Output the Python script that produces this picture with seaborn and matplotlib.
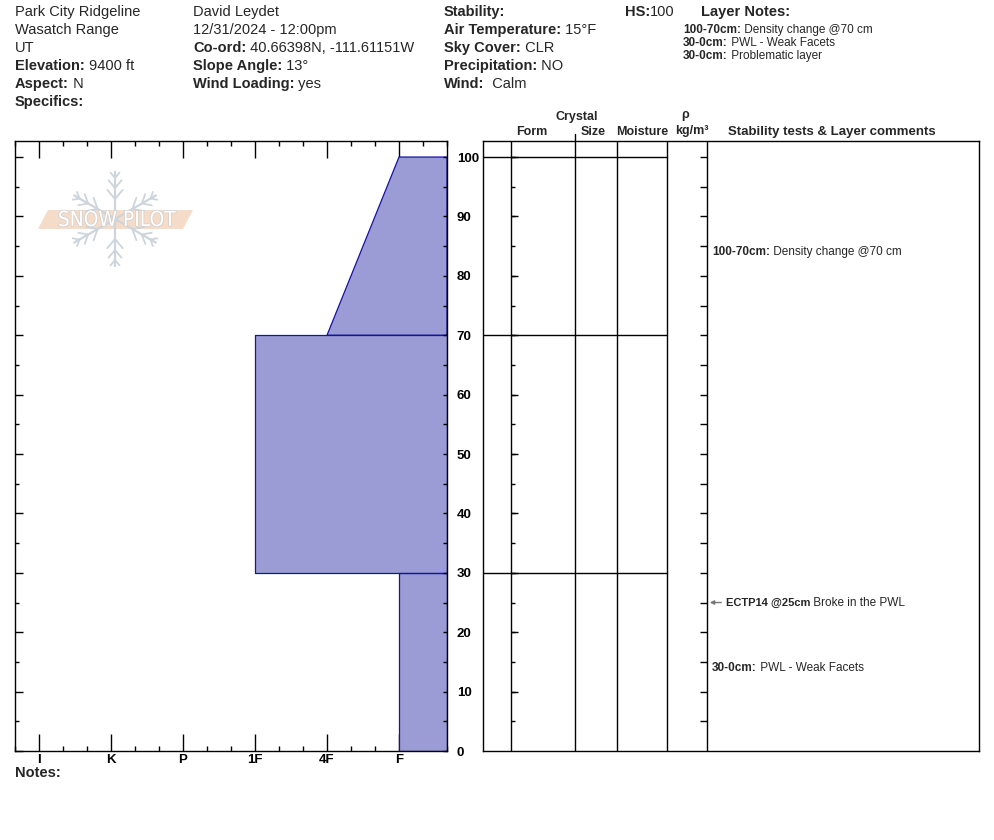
import numpy as np
import matplotlib
matplotlib.use("Agg")
import matplotlib.pyplot as plt
import matplotlib.patheffects as pe
from matplotlib.ticker import FixedLocator, MultipleLocator, FuncFormatter
import seaborn as sns

# profile data
hardness_labels = ['I', 'K', 'P', '1F', '4F', 'F']
layer_top = [100, 70, 30]
layer_bottom = [70, 30, 0]
hard_top = ['F', '1F', 'F']
hard_bottom = ['4F', '1F', 'F']

comment_top = [100, 30]
comment_bottom = [70, 0]
comment_text = ['Density change @70 cm', 'PWL - Weak Facets']

test_depth = [25]
test_code = ['ECTP14 @25cm']
test_comment = ['Broke in the PWL']

note_range = ['100-70cm:', '30-0cm:', '30-0cm:']
note_text = [' Density change @70 cm', ' PWL - Weak Facets', ' Problematic layer']

col1 = [('', 'Park City Ridgeline'), ('', 'Wasatch Range'), ('', 'UT'),
        ('Elevation:', ' 9400 ft'), ('Aspect:', ' N'), ('Specifics:', '')]
col2 = [('', 'David Leydet'), ('', '12/31/2024 - 12:00pm'),
        ('Co-ord:', ' 40.66398N, -111.61151W'), ('Slope Angle:', ' 13°'),
        ('Wind Loading:', ' yes')]
col3 = [('Stability:', ''), ('Air Temperature:', ' 15°F'), ('Sky Cover:', ' CLR'),
        ('Precipitation:', ' NO'), ('Wind:', '  Calm')]

sns.set_style("ticks")
plt.rcParams['font.family'] = ['Liberation Sans', 'DejaVu Sans']

W, H = 994, 840
fig = plt.figure(figsize=(W / 100, H / 100), dpi=100)
renderer = fig.canvas.get_renderer()


def fx(x):
    return x / W


def fy(y):
    return 1 - y / H


def rich(x, y, parts, size):
    # bold label followed by a plain value
    for txt, bold in parts:
        if not txt:
            continue
        t = fig.text(fx(x), fy(y), txt, fontsize=size, va='center', ha='left',
                     fontweight='bold' if bold else 'normal')
        x += t.get_window_extent(renderer).width


YMAX = 102.7
fill_col = '#9b9bd6'
edge_col = '#1414a0'

# watermark logo (behind the profile)
lg = fig.add_axes([0, 0, 1, 1], zorder=0)
lg.set_xlim(0, W)
lg.set_ylim(H, 0)
lg.axis('off')
flake = '#cdd5dc'
cx, cy = 115, 219
for ang in (90, 30, 150):
    a = np.deg2rad(ang)
    dx, dy = np.cos(a), -np.sin(a)
    for sgn in (1, -1):
        lg.plot([cx, cx + sgn * 48 * dx], [cy, cy + sgn * 48 * dy], color=flake, lw=1.6,
                solid_capstyle='butt')
        for r, bl in ((20, 12), (31, 10), (41, 7)):
            for br in (40, -40):
                b = a + np.deg2rad(br) + (0 if sgn > 0 else np.pi)
                bx, by = cx + sgn * r * dx, cy + sgn * r * dy
                lg.plot([bx, bx + bl * np.cos(b)], [by, by - bl * np.sin(b)],
                        color=flake, lw=1.3)
lg.fill([38, 48, 193, 183], [229, 210, 210, 229], color='#f4dcc8', lw=0)
lg.text(117, 220, 'SNOW PILOT', fontsize=15, ha='center', va='center', color='white',
        family='DejaVu Sans', stretch='condensed',
        path_effects=[pe.withStroke(linewidth=1.0, foreground='#cfcfcf')])

# ---- hardness profile ----
ax = fig.add_axes([fx(15), fy(751), fx(447) - fx(15), fy(141) - fy(751)], zorder=1)
ax.set_facecolor('none')
hpos = {h: i + 1 for i, h in enumerate(hardness_labels)}
right = 20 / 3
for top, bot, ht, hb in zip(layer_top, layer_bottom, hard_top, hard_bottom):
    px = [right, hpos[hb], hpos[ht], right, right]
    py = [bot, bot, top, top, bot]
    ax.fill(px, py, color=fill_col, lw=0, zorder=1)
    sns.lineplot(x=px, y=py, sort=False, estimator=None, color=edge_col,
                 lw=0.9, ax=ax, zorder=2)

ax.set_xlim(2 / 3, right)
ax.set_ylim(0, YMAX)
ax.xaxis.set_major_locator(FixedLocator(range(1, 7)))
ax.xaxis.set_minor_locator(MultipleLocator(1 / 3))
ax.set_xticklabels(hardness_labels, fontsize=9.5, fontweight='bold')
ax.yaxis.set_major_locator(MultipleLocator(10))
ax.yaxis.set_minor_locator(MultipleLocator(5))
ax.set_yticklabels([])
ax.tick_params(axis='x', which='major', direction='in', length=12.5, width=1,
               top=True, bottom=True, pad=2.5, colors='black')
ax.tick_params(axis='x', which='minor', direction='in', length=3.6, width=1,
               top=True, bottom=True, colors='black')
ax.tick_params(axis='y', which='major', direction='in', length=5.8, width=1,
               left=True, right=False, colors='black')
ax.tick_params(axis='y', which='minor', direction='in', length=2.9, width=1,
               left=True, right=False, colors='black')
for s in ax.spines.values():
    s.set_linewidth(1)
    s.set_color('black')
ax.set_xlabel('')
ax.set_ylabel('')

axr = ax.twinx()
axr.set_ylim(0, YMAX)
axr.yaxis.set_major_locator(MultipleLocator(10))
axr.yaxis.set_minor_locator(MultipleLocator(5))
axr.yaxis.set_major_formatter(FuncFormatter(lambda v, p: f'{v:.0f}'))
axr.tick_params(axis='y', which='both', direction='in', length=2.9, width=1, pad=7,
                labelsize=9.5, colors='black')
for lab in axr.get_yticklabels():
    lab.set_fontweight('bold')
for s in axr.spines.values():
    s.set_visible(False)

# ---- right panel ----
a2 = fig.add_axes([fx(483), fy(751), fx(979) - fx(483), fy(141) - fy(751)], zorder=1)
a2.set_xlim(0, 496)
a2.set_ylim(0, YMAX)
a2.set_xticks([])
a2.set_yticks([])
for s in a2.spines.values():
    s.set_linewidth(1)
    s.set_color('black')
col_edges = [28, 92, 134, 184, 224]
for xe in col_edges:
    a2.axvline(xe, color='black', lw=1)
for d in layer_top:
    a2.plot([0, 184], [d, d], color='black', lw=1)
ticks = np.arange(5, 101, 5)
long_t = ticks[ticks % 10 == 0]
a2.hlines(ticks, 28, 32, color='black', lw=1)
a2.hlines(long_t, 28, 35, color='black', lw=1)
a2.hlines(ticks, 217, 224, color='black', lw=1)
a2.plot([92, 92], [YMAX, YMAX + 7 / 5.94], color='black', lw=1, clip_on=False)

for top, bot, txt in zip(comment_top, comment_bottom, comment_text):
    mid = (top + bot) / 2
    t = a2.text(229, mid, f'{top}-{bot}cm:', fontsize=8.5, fontweight='bold',
                va='top', ha='left')
    w = t.get_window_extent(renderer).width
    a2.annotate(' ' + txt, (229, mid), xytext=(w, 0), textcoords='offset pixels',
                fontsize=8.5, va='top', ha='left')

for d, code, cm in zip(test_depth, test_code, test_comment):
    a2.annotate('', xy=(224, d), xytext=(241, d),
                arrowprops=dict(arrowstyle='-|>', color='#777777', lw=1,
                                mutation_scale=6))
    t = a2.text(243, d, code, fontsize=8, fontweight='bold', va='center', ha='left')
    w = t.get_window_extent(renderer).width
    a2.annotate(' ' + cm, (243, d), xytext=(w, 0), textcoords='offset pixels',
                fontsize=8.5, va='center', ha='left')

hdr = dict(fontsize=9, fontweight='bold', ha='center', va='center')
fig.text(fx(577), fy(117), 'Crystal', **hdr)
fig.text(fx(532), fy(132), 'Form', **hdr)
fig.text(fx(593), fy(132), 'Size', **hdr)
fig.text(fx(642), fy(132), 'Moisture', **hdr)
fig.text(fx(685), fy(115), 'ρ', **hdr)
fig.text(fx(692), fy(131), 'kg/m³', **hdr)
fig.text(fx(832), fy(132), 'Stability tests & Layer comments', fontsize=9.5,
         fontweight='bold', ha='center', va='center')

# ---- header block ----
for i, (b, r) in enumerate(col1):
    rich(15, 12 + 18 * i, [(b, True), (r, False)], 10.5)
for i, (b, r) in enumerate(col2):
    rich(193, 12 + 18 * i, [(b, True), (r, False)], 10.5)
for i, (b, r) in enumerate(col3):
    rich(444, 12 + 18 * i, [(b, True), (r, False)], 10.5)
rich(625, 12, [('HS:', True), (str(layer_top[0]), False)], 10.5)
rich(701, 12, [('Layer Notes:', True)], 10.5)
for i, (b, r) in enumerate(zip(note_range, note_text)):
    rich(683, 30 + 13 * i, [(b, True), (r, False)], 8.5)
rich(15, 773, [('Notes:', True)], 10.5)

fig.savefig('out.png', dpi=100)
